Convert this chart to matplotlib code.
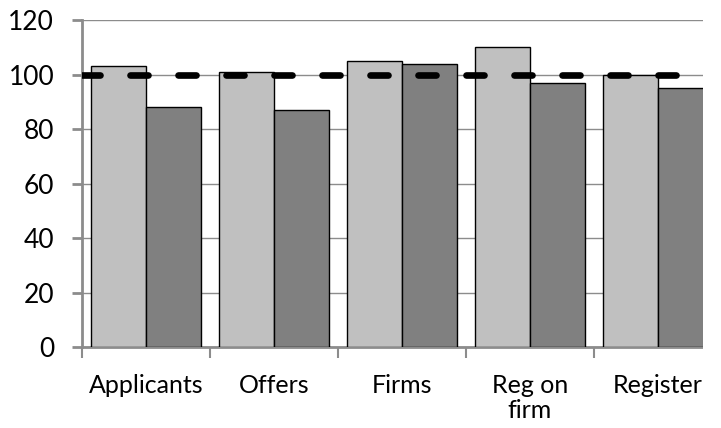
import matplotlib
matplotlib.use("Agg")
import matplotlib.pyplot as plt
from matplotlib.patches import Rectangle
import numpy as np

categories = ["Applicants", "Offers", "Firms", "Reg on\nfirm", "Register"]
series_a = [103, 101, 105, 110, 100]
series_b = [88, 87, 104, 97, 95]
reference_level = 100
y_ticks = [0, 20, 40, 60, 80, 100, 120]

W, H = 721, 428
fig = plt.figure(figsize=(W / 100, H / 100), dpi=100)
left, right_px, top_px, bottom_px = 82, 703, 20, 347.3
ax = fig.add_axes([left / W, 1 - bottom_px / H, (right_px - left) / W, (bottom_px - top_px) / H])

x = np.arange(len(categories)) + 0.5
bw = 0.43
ax.bar(x - bw / 2, series_a, width=bw, color="#c0c0c0", edgecolor="black", linewidth=1.0, zorder=3)
ax.bar(x + bw / 2, series_b, width=bw, color="#808080", edgecolor="black", linewidth=1.0, zorder=3)

ax.axhline(reference_level, color="black", linewidth=4.8, dashes=(2.7, 4.5),
           solid_capstyle="round", dash_capstyle="round", zorder=4)

xmax = (right_px - left) / 128.0
ax.set_xlim(0, xmax)
ax.set_ylim(0, 120)
ax.set_yticks(y_ticks)
ax.yaxis.grid(True, color="#8c8c8c", linewidth=1.0, zorder=0)
ax.set_axisbelow(True)

for s in ["top", "right"]:
    ax.spines[s].set_visible(False)
for s in ["left", "bottom"]:
    ax.spines[s].set_color("#8c8c8c")
    ax.spines[s].set_linewidth(2.0)

ax.set_xticks(x)
ax.set_xticklabels(categories, fontfamily="Lato", fontsize=18, linespacing=1.12)
ax.set_xticks(np.arange(0, 5), minor=True)
ax.tick_params(axis="x", which="major", length=0, pad=19)
ax.tick_params(axis="x", which="minor", length=8, width=1.5, color="#8c8c8c", direction="out")
ax.tick_params(axis="y", length=7, width=2, color="#8c8c8c", direction="out", pad=13)
for lbl in ax.get_yticklabels():
    lbl.set_fontfamily("Lato")
    lbl.set_fontsize(19)

fig.patches.append(Rectangle((right_px / W, 0), 1 - right_px / W, 1, transform=fig.transFigure,
                             facecolor="white", edgecolor="none", zorder=10))

fig.savefig("out.png", dpi=100)
